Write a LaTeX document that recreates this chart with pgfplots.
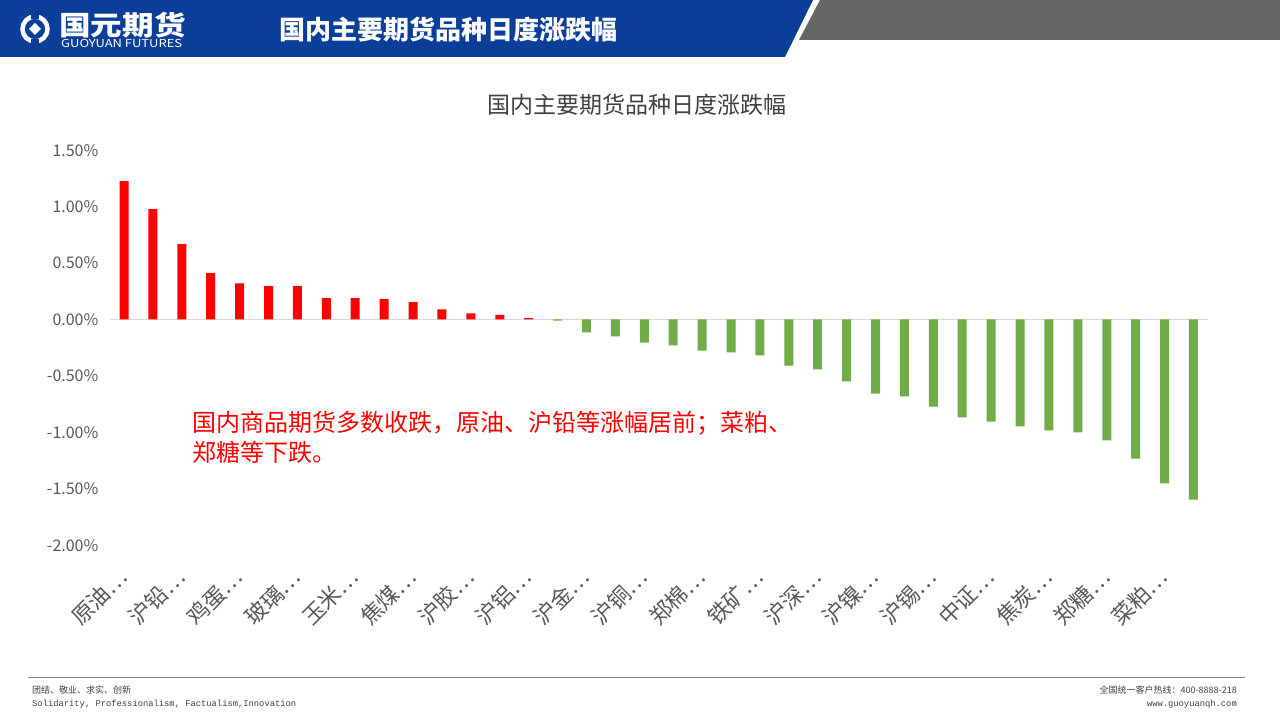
\documentclass[border=0pt]{standalone}
\usepackage{fontspec}
\setmainfont{Noto Sans CJK SC}
\newfontfamily\monof{Liberation Mono}
\usepackage{pgfplots}
\pgfplotsset{compat=1.18}
\definecolor{hdrblue}{RGB}{11,62,152}
\definecolor{hdrgrey}{RGB}{102,102,102}
\definecolor{tickgrey}{RGB}{89,89,89}
\definecolor{titlegrey}{RGB}{64,64,64}
\definecolor{barred}{RGB}{255,0,0}
\definecolor{bargreen}{RGB}{112,173,71}
\definecolor{zerogrey}{RGB}{217,217,217}
\begin{document}
\begin{tikzpicture}[x=1pt,y=1pt]
\path[use as bounding box] (0,0) rectangle (1280,720);
\fill[white] (0,0) rectangle (1280,720);
% header
\fill[hdrblue] (0,720) -- (813,720) -- (785,663) -- (0,663) -- cycle;
\fill[hdrgrey] (820,720) -- (1280,720) -- (1280,680) -- (799,680) -- cycle;
% logo
\draw[white, line width=4.5pt] (35,691) circle (12.5);
\fill[hdrblue] (35,691) ++(-4,10) rectangle ++(8,6);
\fill[hdrblue] (35,691) ++(-4,-16) rectangle ++(8,6);
\fill[white] (35,697) -- (41,691) -- (35,685) -- (29,691) -- cycle;
\node[white, anchor=west, inner sep=0pt, xscale=1.17, font=\fontsize{27}{29}\selectfont\bfseries] at (59,695) {国元期货};
\node[white, anchor=west, inner sep=0pt, xscale=1.18, font=\fontsize{11}{12}\selectfont] at (61,677) {GUOYUAN FUTURES};
\node[white, inner sep=0pt, font=\fontsize{26}{30}\selectfont\bfseries] at (448,690) {国内主要期货品种日度涨跌幅};
% chart title
\node[titlegrey, inner sep=0pt, font=\fontsize{23}{26}\selectfont] at (637,615) {国内主要期货品种日度涨跌幅};
\begin{axis}[
  at={(124pt,400.5pt)}, anchor=origin,
  scale only axis, width=1098.4pt, height=395pt,
  xmin=-0.5, xmax=37.5, ymin=-2, ymax=1.5,
  axis line style={draw=none},
  major tick length=0pt,
  xtick={0,2,...,36},
  xticklabels={原油…,沪铅…,鸡蛋…,玻璃…,玉米…,焦煤…,沪胶…,沪铝…,沪金…,沪铜…,郑棉…,铁矿…,沪深…,沪镍…,沪锡…,中证…,焦炭…,郑糖…,菜粕…},
  ytick={-2,-1.5,-1,-0.5,0,0.5,1,1.5},
  yticklabel={\pgfmathprintnumber[fixed,fixed zerofill,precision=2]{\tick}\%},
  /pgf/number format/assume math mode=true,
  yticklabel style={font=\fontsize{16}{19}\selectfont, text=tickgrey, anchor=east, inner sep=0pt, xshift=-11pt},
  xticklabel style={font=\fontsize{22}{24}\selectfont, text=tickgrey, xshift=-1pt, yshift=-28pt, rotate=45, anchor=east, inner sep=0pt},
  clip=false,
]
\addplot[zerogrey, line width=1pt] coordinates {(-0.5,0) (37.5,0)};
\addplot[ybar, bar width=9pt, bar shift=0pt, fill=barred, draw=none] coordinates {
(0,1.225) (1,0.977) (2,0.667) (3,0.41) (4,0.32) (5,0.295) (6,0.295) (7,0.19)
(8,0.19) (9,0.18) (10,0.155) (11,0.09) (12,0.055) (13,0.04) (14,0.012)};
\addplot[ybar, bar width=9pt, bar shift=0pt, fill=bargreen, draw=none] coordinates {
(15,-0.01) (16,-0.115) (17,-0.15) (18,-0.204) (19,-0.23) (20,-0.275) (21,-0.292)
(22,-0.319) (23,-0.408) (24,-0.443) (25,-0.549) (26,-0.656) (27,-0.682) (28,-0.771)
(29,-0.868) (30,-0.904) (31,-0.948) (32,-0.983) (33,-1.001) (34,-1.072) (35,-1.232)
(36,-1.453) (37,-1.595)};
\end{axis}
% annotation
\node[barred, anchor=west, inner sep=0pt, font=\fontsize{24}{28}\selectfont] at (192,297) {国内商品期货多数收跌，原油、沪铅等涨幅居前；菜粕、};
\node[barred, anchor=west, inner sep=0pt, font=\fontsize{24}{28}\selectfont] at (192,268) {郑糖等下跌。};
% footer
\draw[hdrgrey!80, line width=1pt] (28,42) -- (1245,42);
\node[titlegrey, anchor=west, inner sep=0pt, font=\fontsize{9}{10}\selectfont] at (32,30) {团结、敬业、求实、创新};
\node[titlegrey, anchor=west, inner sep=0pt, font=\monof\fontsize{8.8}{10}\selectfont] at (32,16) {Solidarity, Professionalism, Factualism,Innovation};
\node[titlegrey, anchor=east, inner sep=0pt, font=\fontsize{9}{10}\selectfont] at (1237,30) {全国统一客户热线：400-8888-218};
\node[titlegrey, anchor=east, inner sep=0pt, font=\monof\fontsize{8.8}{10}\selectfont] at (1237,16) {www.guoyuanqh.com};
\end{tikzpicture}
\end{document}
